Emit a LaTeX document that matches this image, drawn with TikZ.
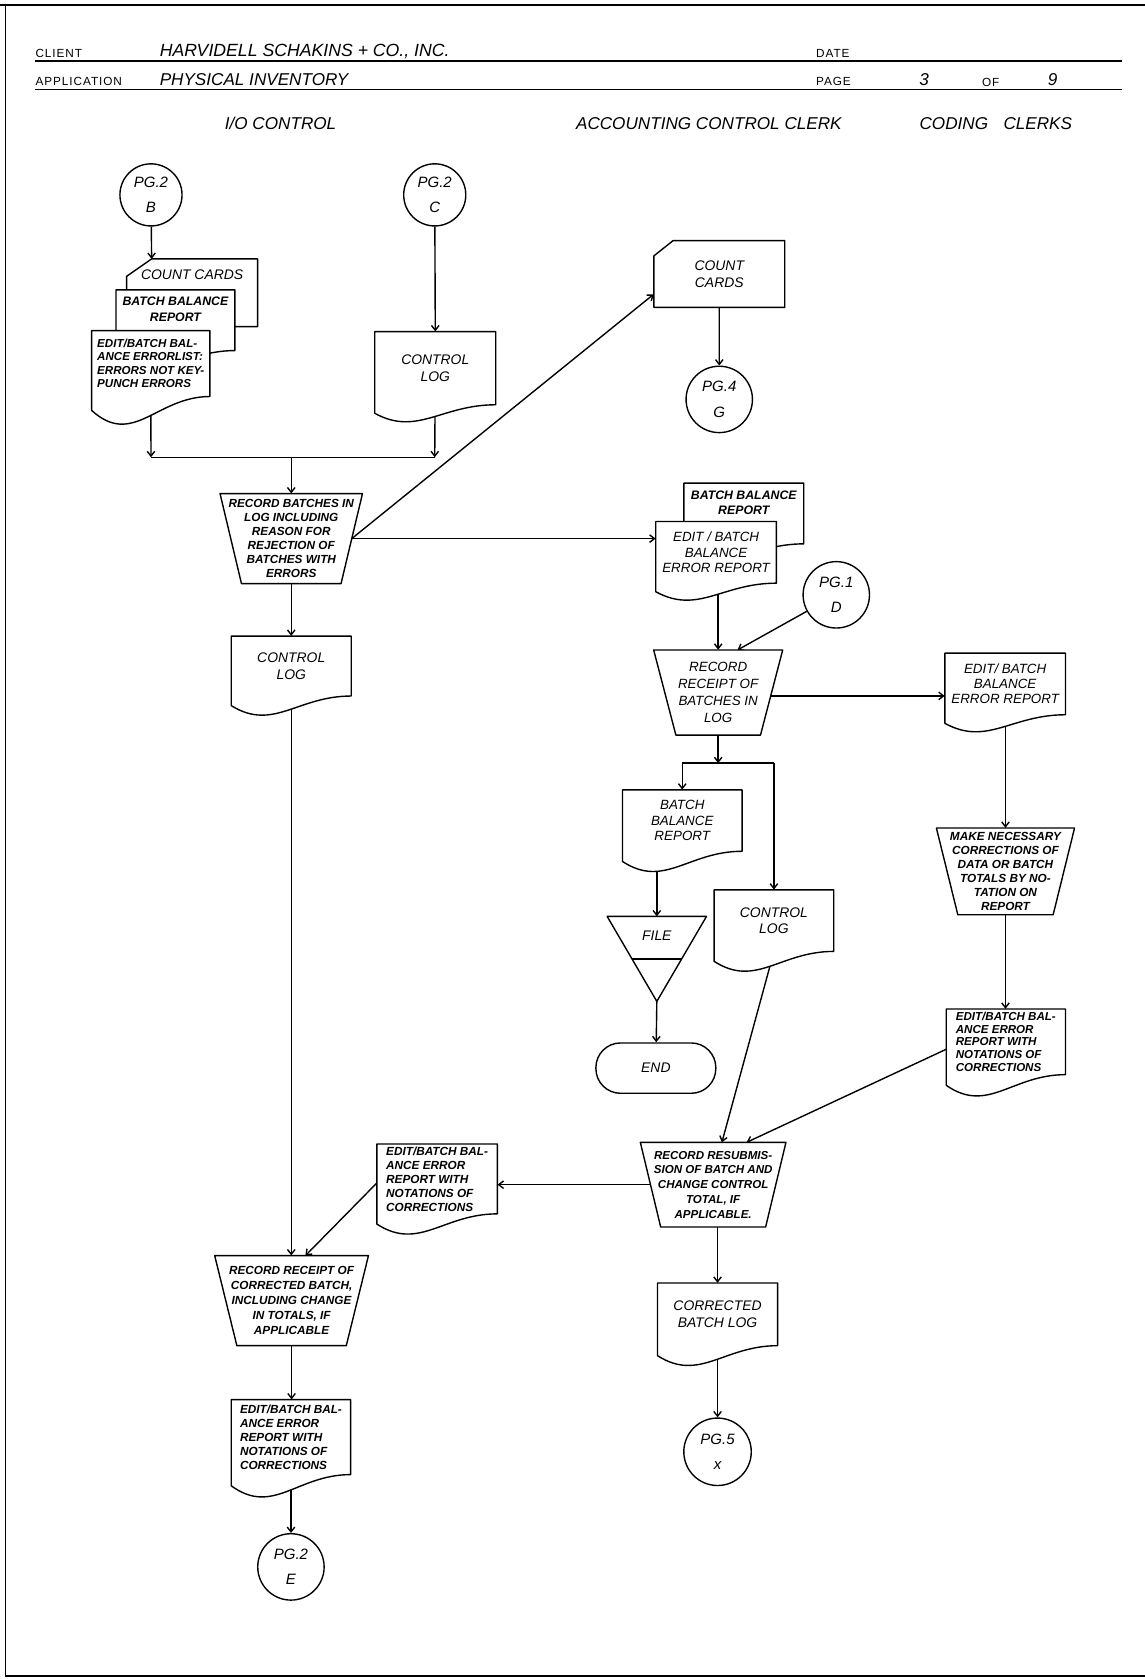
\documentclass[tikz,border=0pt]{standalone}
\usepackage{fontspec}
\newfontfamily\hand{Liberation Sans}
\newfontfamily\form{Liberation Sans}[LetterSpace=8.0]
\usetikzlibrary{arrows.meta,calc,backgrounds}

\tikzset{
  ln/.style={line width=1.3pt, line join=round},
  shp/.style={ln, draw=black, fill=white},
  arr/.style={ln, -{Straight Barb[length=4.5pt,width=7pt]}},
  txt/.style={inner sep=0pt, align=center, font=\hand\itshape\fontsize{13}{15.5}\selectfont},
  txtb/.style={inner sep=0pt, align=center, font=\hand\bfseries\itshape\fontsize{11}{13}\selectfont},
  conn/.style={shp, circle, minimum size=58pt, inner sep=0pt, align=center,
               font=\hand\itshape\fontsize{14}{24}\selectfont},
  formlbl/.style={font=\form\fontsize{11}{13}\selectfont, anchor=west, inner sep=0pt},
  hw/.style={font=\hand\itshape\fontsize{16}{18}\selectfont, inner sep=0pt},
}

% document symbol: name, left x, top y, right x, right-bottom y, wave drop, style, text
\newcommand\Doc[8]{%
  \path[shp] (#4,#5) -- (#4,#3) -- (#2,#3) -- (#2,{#5+#6})
    .. controls +({0.35*(#4-#2)},{2.7*#6}) and +({-0.45*(#4-#2)},0) .. (#4,#5) -- cycle;
  \node[#7, minimum width={(#4-#2)*1pt}, minimum height={(#5-#3)*1pt}]
    (#1) at ({(#2+#4)/2},{(#3+#5)/2}) {#8};
}
% manual operation: name, centre x, top y, top width, bottom width, height, style, text
\newcommand\Trap[8]{%
  \coordinate (#1-tl) at ({#2-#4/2},#3);
  \coordinate (#1-tr) at ({#2+#4/2},#3);
  \coordinate (#1-bl) at ({#2-#5/2},{#3+#6});
  \coordinate (#1-br) at ({#2+#5/2},{#3+#6});
  \path[shp] (#1-tl) -- (#1-tr) -- (#1-br) -- (#1-bl) -- cycle;
  \node[#7, minimum width={#4*1pt}, minimum height={#6*1pt}] (#1) at (#2,{#3+#6/2}) {#8};
}
% punched card: name, left x, top y, right x, bottom y, cut x, cut y, style, text
\newcommand\Card[9]{%
  \path[shp] (#2,{#3+#7}) -- ({#2+#6},#3) -- (#4,#3) -- (#4,#5) -- (#2,#5) -- cycle;
  \coordinate (#1-c) at ({#2+#6},#3);
  \node[#8, minimum width={(#4-#2)*1pt}, minimum height={(#5-#3)*1pt}]
    (#1) at ({(#2+#4)/2},{(#3+#5)/2}) {#9};
}

\begin{document}
\begin{tikzpicture}[x=1pt,y=-1pt]
\useasboundingbox (0,0) rectangle (1069,1568);

% ---- form frame and heading ----
\draw[line width=1.6pt] (0,5) -- (1069,5);
\draw[line width=1.4pt] (5,5) -- (5,1565) -- (1069,1565);
\draw[line width=1.2pt] (33,57) -- (1048,57);
\draw[line width=1.2pt] (33,83.5) -- (1048,83.5);

\node[formlbl] (lblclient) at (33,50) {CLIENT};
\node[hw, anchor=west, font=\hand\itshape\fontsize{16.5}{18}\selectfont] (client) at (149,48) {HARVIDELL SCHAKINS + CO., INC.};
\node[formlbl] (lbldate) at (762,50) {DATE};
\node[formlbl] (lblapp) at (33,76.5) {APPLICATION};
\node[hw, anchor=west] (app) at (149,74.5) {PHYSICAL INVENTORY};
\node[formlbl] (lblpage) at (762,76.5) {PAGE};
\node[hw] (pgno) at (863,74) {3};
\node[formlbl] (lblof) at (917,77) {OF};
\node[hw] (pgtot) at (983,74) {9};

\node[hw] (lane1) at (262,115) {I/O CONTROL};
\node[hw] (lane2) at (662,115) {ACCOUNTING CONTROL CLERK};
\node[hw] (lane3) at (930,115) {CODING\hspace{10pt} CLERKS};

% ---- I/O control column ----
\node[conn] (B) at (141,182) {PG.2\\B};
\node[conn] (C) at (406,182) {PG.2\\C};

\Card{ccL}{118.3}{241.8}{240.6}{305}{23.3}{16.2}{txt, yshift=17pt}{COUNT CARDS}
\Doc{bbL}{108.3}{270.7}{219.4}{327.4}{9}{txtb, font=\hand\bfseries\itshape\fontsize{11.5}{15}\selectfont, yshift=10pt}{BATCH BALANCE\\REPORT}
\Doc{errL}{85.6}{308.7}{196}{370.3}{13}{txtb, align=left, font=\hand\bfseries\itshape\fontsize{10.8}{12.6}\selectfont}{EDIT/BATCH BAL-\\ANCE ERRORLIST:\\ERRORS NOT KEY-\\PUNCH ERRORS}
\Doc{clogC}{350}{309.7}{463}{378}{8}{txt}{CONTROL\\LOG}

\coordinate (jL) at (141,427);
\coordinate (jR) at (406,427);
\coordinate (jM) at (272,427);

\Trap{RB}{272}{461}{133}{93}{84}{txtb}{RECORD BATCHES IN\\LOG INCLUDING\\REASON FOR\\REJECTION OF\\BATCHES WITH\\ERRORS}
\coordinate (RB-e) at ($(RB-tr)!0.5!(RB-br)$);

\Doc{clogL}{216}{594}{328}{650}{9}{txt}{CONTROL\\LOG}

\Trap{CR}{272.3}{1172.6}{143.6}{102.2}{84.1}{txtb, font=\hand\bfseries\itshape\fontsize{11}{14}\selectfont}{RECORD RECEIPT OF\\CORRECTED BATCH,\\INCLUDING CHANGE\\IN TOTALS, IF\\APPLICABLE}
\coordinate (CR-d) at ($(CR-tl)!0.59!(CR-tr)$);

\Doc{erB}{216}{1307.1}{327.5}{1377.1}{10.5}{txtb, align=left}{EDIT/BATCH BAL-\\ANCE ERROR\\REPORT WITH\\NOTATIONS OF\\CORRECTIONS}
\node[conn, minimum size=62pt] (E) at (271.7,1463.3) {PG.2\\E};

% ---- accounting control clerk column ----
\Card{ccR}{610.6}{224.7}{732.9}{287}{18}{14.3}{txt}{COUNT\\CARDS}
\node[conn, minimum size=62pt] (G) at (671.7,373) {PG.4\\G};

\Doc{bbM}{638.6}{451.2}{750.6}{507.9}{8}{txtb, font=\hand\bfseries\itshape\fontsize{11.5}{14}\selectfont, yshift=10pt}{BATCH BALANCE\\REPORT}
\Doc{ebM}{612.4}{487}{725.1}{544.6}{8}{txt, font=\hand\itshape\fontsize{12.5}{14.5}\selectfont}{EDIT / BATCH\\BALANCE\\ERROR REPORT}
\node[conn, minimum size=62pt] (D) at (781,555.5) {PG.1\\D};

\Trap{RR}{670.7}{607}{120.5}{79}{79.5}{txt, font=\hand\itshape\fontsize{12.5}{16}\selectfont}{RECORD\\RECEIPT OF\\BATCHES IN\\LOG}
\coordinate (RR-d) at ($(RR-tl)!0.65!(RR-tr)$);
\coordinate (RR-e) at ($(RR-tr)!0.54!(RR-br)$);
\coordinate (jM2) at (671,712.7);

\Doc{BBR}{581.3}{737.6}{693}{795}{9.5}{txt, font=\hand\itshape\fontsize{12.5}{14.5}\selectfont}{BATCH\\BALANCE\\REPORT}

% offline file
\coordinate (FILE-t) at (613.4,855.8);
\coordinate (FILE-a) at (613.4,935.2);
\path[shp] (567,855.8) -- (659.8,855.8) -- (FILE-a) -- cycle;
\draw[ln] (590.2,895.6) -- (636.6,895.6);
\node[txt] (FILE) at (613.4,874) {FILE};

\node[shp, txt, rounded corners=23pt, minimum width=112pt, minimum height=47pt] (END) at (612.5,997.5) {END};

\Doc{clogM}{666.9}{831}{778.6}{888.5}{9.3}{txt}{CONTROL\\LOG}

\Trap{RS}{666}{1066.8}{136}{98}{79.1}{txtb, font=\hand\bfseries\itshape\fontsize{10.8}{13.7}\selectfont}{RECORD RESUBMIS-\\SION OF BATCH AND\\CHANGE CONTROL\\TOTAL, IF\\APPLICABLE.}
\coordinate (RS-d1) at ($(RS-tl)!0.56!(RS-tr)$);
\coordinate (RS-d2) at ($(RS-tl)!0.73!(RS-tr)$);
\coordinate (RS-w) at ($(RS-tl)!0.5!(RS-bl)$);

\Doc{erL}{351.9}{1068.4}{464.5}{1133.6}{9.5}{txtb, align=left}{EDIT/BATCH BAL-\\ANCE ERROR\\REPORT WITH\\NOTATIONS OF\\CORRECTIONS}

\Doc{CBL}{614}{1198.2}{726.2}{1256.7}{9.3}{txt}{CORRECTED\\BATCH LOG}
\node[conn, minimum size=63pt] (X) at (670.1,1355.8) {PG.5\\x};

% ---- coding clerks column ----
\Doc{erR}{882.4}{610}{995}{667.5}{8}{txt, font=\hand\itshape\fontsize{12.5}{14}\selectfont}{EDIT/ BATCH\\BALANCE\\ERROR REPORT}
\Trap{MK}{939}{773.3}{129}{89}{81}{txtb}{MAKE NECESSARY\\CORRECTIONS OF\\DATA OR BATCH\\TOTALS BY NO-\\TATION ON\\REPORT}
\Doc{erR2}{883.7}{942.3}{995}{1003.6}{10}{txtb, align=left, font=\hand\bfseries\itshape\fontsize{10.8}{12}\selectfont}{EDIT/BATCH BAL-\\ANCE ERROR\\REPORT WITH\\NOTATIONS OF\\CORRECTIONS}

% ---- flow lines ----
\begin{scope}[on background layer]
  \draw[arr] (B) -- (ccL-c);
  \draw[arr] (C) -- (clogC.north);
  \draw[arr] (errL.center) -- (jL);
  \draw[arr] (clogC.center) -- (jR);
  \draw[ln] (jL) -- (jR);
  \draw[arr] (jM) -- (RB.north);
  \draw[arr] (RB.south) -- (clogL.north);
  \draw[arr] (RB-e) -- ([yshift=-19pt]ccR.west);
  \draw[arr] (RB-e) -- (RB-e -| ebM.west);
  \draw[arr] (ccR.center) -- (G);
  \draw[arr] (RR.north |- ebM.center) -- (RR.north);
  \draw[arr] (D) -- (RR-d);
  \draw[arr] (RR-e) -- (RR-e -| erR.west);
  \draw[arr] (MK.north |- erR.center) -- (MK.north);
  \draw[arr] (MK.south) -- (MK.south |- erR2.north);
  \draw[arr] ([yshift=-7pt]erR2.west) -- (RS-d2);
  \draw[arr] (RR.south) -- (RR.south |- jM2);
  \draw[ln] (BBR.north |- jM2) -- (clogM.north |- jM2);
  \draw[arr] (BBR.north |- jM2) -- (BBR.north);
  \draw[arr] (clogM.north |- jM2) -- (clogM.north);
  \draw[arr] (FILE-t |- BBR.center) -- (FILE-t);
  \draw[arr] (FILE-a) -- (END);
  \draw[arr] (clogM.south) -- (RS-d1);
  \draw[arr] (RS-w) -- (RS-w -| erL.east);
  \draw[arr] ([yshift=-4pt]erL.west) -- (CR-d);
  \draw[arr] (clogL.south) -- (clogL.south |- CR.north);
  \draw[arr] (CR.south) -- (CR.south |- erB.north);
  \draw[arr] (erB.south) -- (erB.south |- E.north);
  \draw[arr] (CBL.north |- RS.south) -- (CBL.north);
  \draw[arr] (CBL.south) -- (CBL.south |- X.north);
\end{scope}
\end{tikzpicture}
\end{document}
